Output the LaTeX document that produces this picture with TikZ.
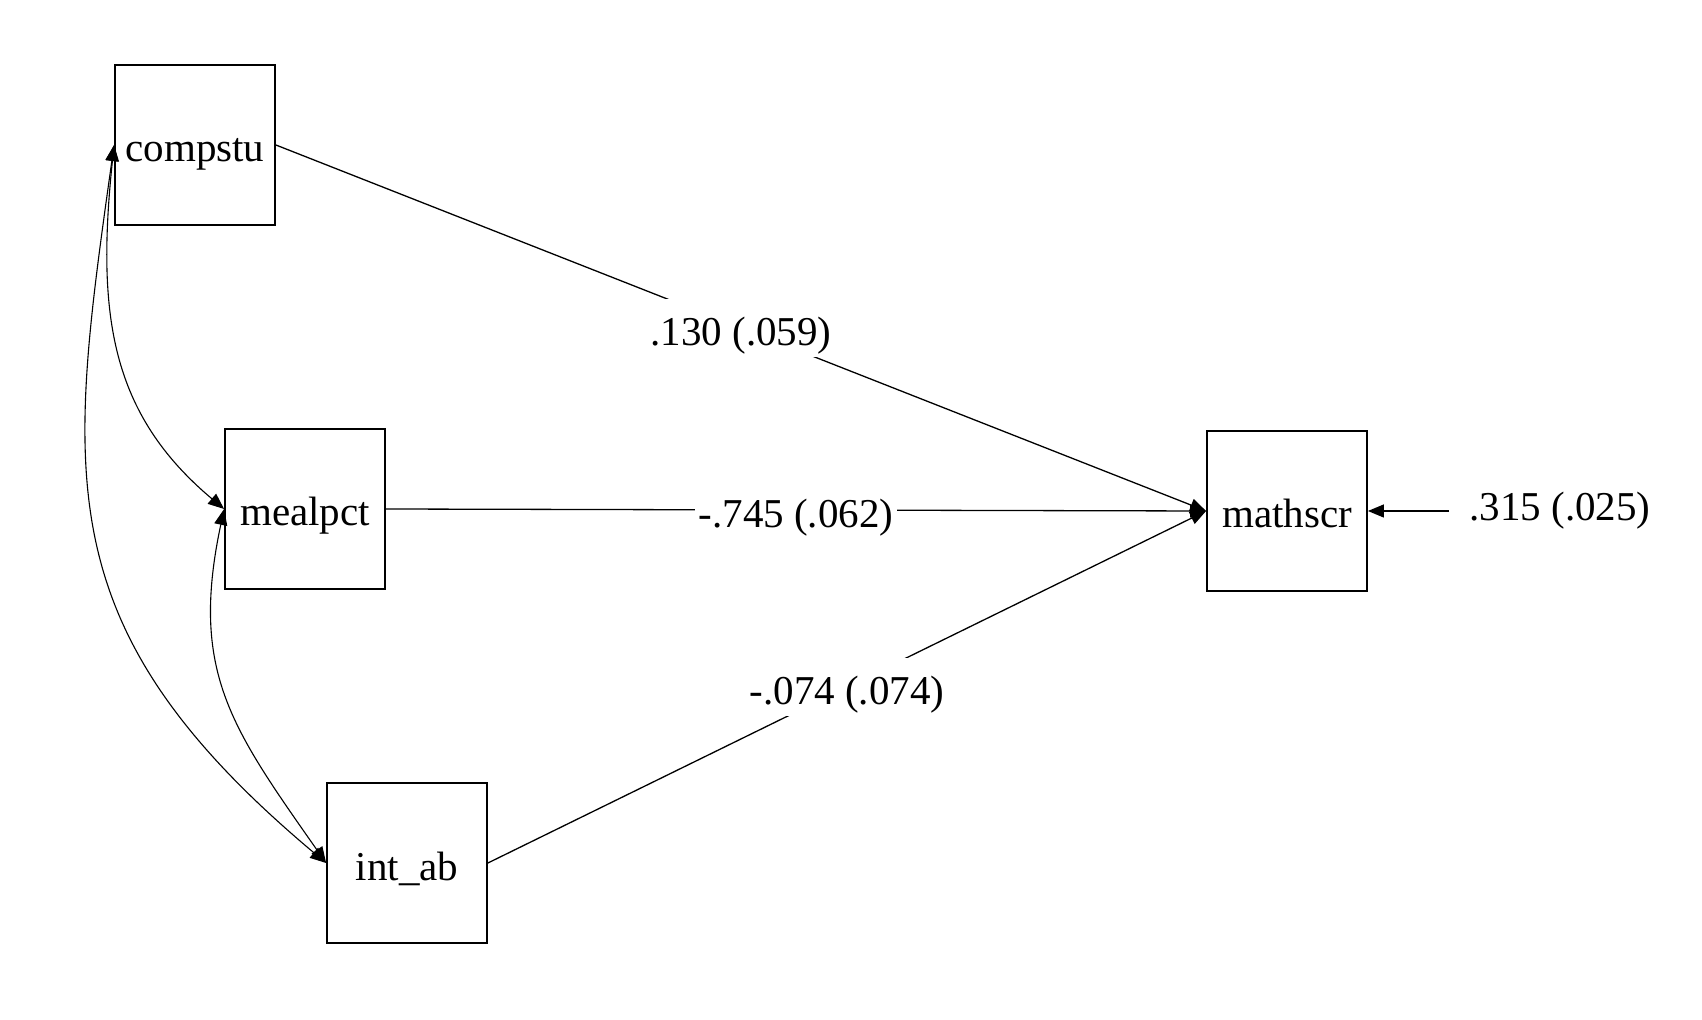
\documentclass[tikz,border=0pt]{standalone}
\usepackage{fontspec}
\setmainfont{Liberation Serif}
\usetikzlibrary{arrows.meta}
\begin{document}
\begin{tikzpicture}[x=0.5pt,y=-0.5pt,
  var/.style={draw,line width=0.9pt,minimum width=80pt,minimum height=80pt,inner sep=0pt,text height=17pt,text depth=0pt,font=\fontsize{20.5}{24}\selectfont},
  lbl/.style={fill=white,inner xsep=2pt,inner ysep=5.5pt,text height=17.8pt,text depth=0pt,font=\fontsize{20.5}{24}\selectfont},
  plain/.style={inner sep=2pt,font=\fontsize{20.5}{24}\selectfont},
  edgeline/.style={line width=0.65pt},
  curveline/.style={line width=0.55pt},
  onetip/.style={-{Triangle[length=8pt,width=6.5pt]}},
  twotips/.style={{Triangle[length=8pt,width=6.5pt]}-{Triangle[length=8pt,width=6.5pt]}}
]
\useasboundingbox (0,0) rectangle (1702,1020);
\node[var] (compstu) at (195,145) {compstu};
\node[var] (mealpct) at (305,509) {mealpct};
\node[var] (intab) at (407,863) {int\_ab};
\node[var] (mathscr) at (1287,511) {mathscr};
\coordinate (rs) at (1449,511);
\node[plain] (res) at (1560,511) {.315 (.025)};

\draw[edgeline,onetip] (compstu.east) -- node[lbl,midway] (l1) {.130 (.059)} (mathscr.west);
\draw[edgeline,onetip] (mealpct.east) -- node[lbl,midway] (l2) {-.745 (.062)} (mathscr.west);
\draw[edgeline,onetip] (intab.east) -- node[lbl,midway] (l3) {-.074 (.074)} (mathscr.west);
\draw[edgeline,onetip] (rs) -- (mathscr.east);

\draw[curveline,twotips] (compstu.west) to[out=264,in=140,out looseness=1.15] (mealpct.west);
\draw[curveline,twotips] (compstu.west) to[out=262,in=140,out looseness=1.15,in looseness=1.25] (intab.west);
\draw[curveline,twotips] (mealpct.west) to[out=258,in=125,looseness=1.15] (intab.west);
\end{tikzpicture}
\end{document}
